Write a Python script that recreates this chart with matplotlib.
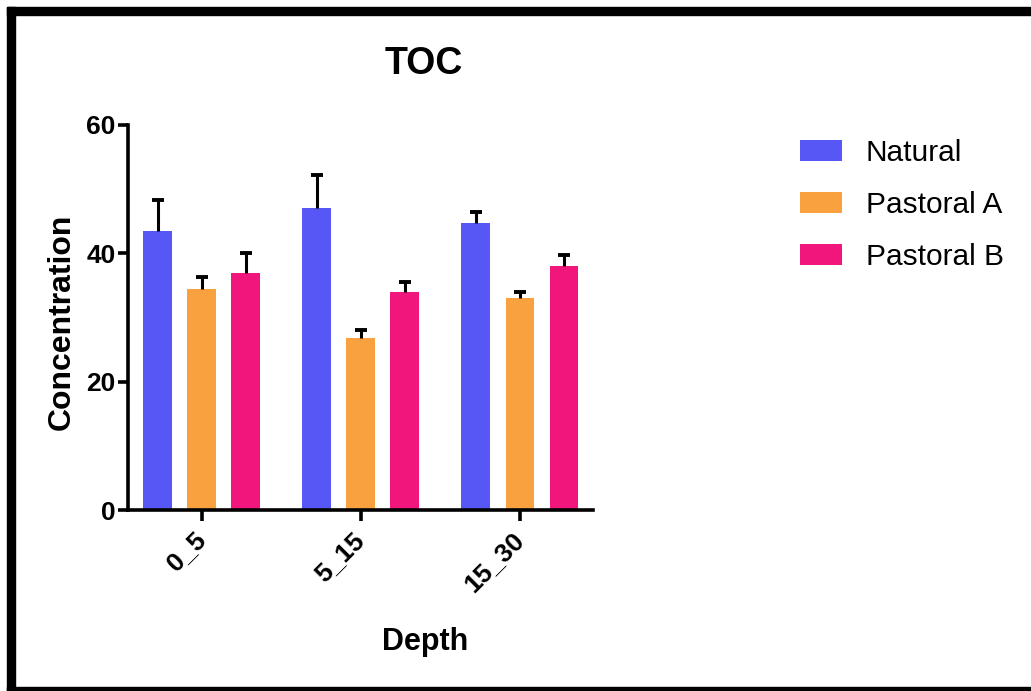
import numpy as np
import matplotlib
matplotlib.use("Agg")
import matplotlib.pyplot as plt
from matplotlib.patches import Rectangle

plt.rcParams['font.family'] = ['Liberation Sans', 'DejaVu Sans']

# data
depths = ["0_5", "5_15", "15_30"]
groups = ["Natural", "Pastoral A", "Pastoral B"]
natural = [43.5, 47.1, 44.8]
pastoral_a = [34.4, 26.8, 33.1]
pastoral_b = [36.9, 33.9, 38.1]
err_natural = [4.8, 5.1, 1.6]
err_pastoral_a = [1.9, 1.2, 0.8]
err_pastoral_b = [3.2, 1.7, 1.7]

colors = ["#5757f5", "#f9a03f", "#f0167c"]

fig = plt.figure(figsize=(10.31, 6.91), dpi=100)
ax = fig.add_axes([128/1031, 1-510/691, (593-128)/1031, (510-125)/691])

x = np.arange(len(depths))
w = 0.18
off = 0.277
series = [natural, pastoral_a, pastoral_b]
errs = [err_natural, err_pastoral_a, err_pastoral_b]
for i, (vals, e) in enumerate(zip(series, errs)):
    bc = ax.bar(x + (i-1)*off, vals, w, color=colors[i], label=groups[i],
                yerr=[np.zeros(len(e)), e], capsize=4,
                error_kw=dict(elinewidth=2.2, capthick=2.8, ecolor='black'))
    # only the upper cap is drawn
    caps = bc.errorbar.lines[1]
    caps[0].set_visible(False)

ax.set_xlim(-0.463, 2.46)
ax.set_ylim(0, 60)
ax.set_yticks([0, 20, 40, 60])
ax.set_xticks(x)
ax.set_xticklabels(depths, rotation=45, ha='right', va='center',
                   rotation_mode='anchor', fontsize=19, fontweight='bold')
for lab in ax.get_yticklabels():
    lab.set_fontsize(19)
    lab.set_fontweight('bold')
for s in ['top', 'right']:
    ax.spines[s].set_visible(False)
for s in ['left', 'bottom']:
    ax.spines[s].set_linewidth(2.6)
ax.tick_params(axis='both', width=2.6, length=7, pad=2)
ax.tick_params(axis='x', length=8, pad=11)

fig.text(424/1031, 1-64/691, "TOC", fontsize=27, fontweight='bold',
         ha='center', va='center')
fig.text(425/1031, 1-642/691, "Depth", fontsize=22, fontweight='bold',
         ha='center', va='center')
fig.text(62/1031, 1-322/691, "Concentration", fontsize=23, fontweight='bold',
         ha='center', va='center', rotation=90)

ax.legend(loc='upper left', bbox_to_anchor=(800/1031, 1-139/691),
          bbox_transform=fig.transFigure, frameon=False, fontsize=21.5,
          borderpad=0, borderaxespad=0, handlelength=1.4, handleheight=0.7,
          handletextpad=0.8, labelspacing=0.8)

# black frame around the picture
W, H = 1031, 691
for (x0, y0, ww, hh) in [(7, 7, 8, 684), (7, 7, 1024, 8), (7, 687, 1024, 4)]:
    fig.patches.append(Rectangle((x0/W, 1-(y0+hh)/H), ww/W, hh/H,
                                 transform=fig.transFigure, color='black'))

fig.savefig("out.png", dpi=100)
